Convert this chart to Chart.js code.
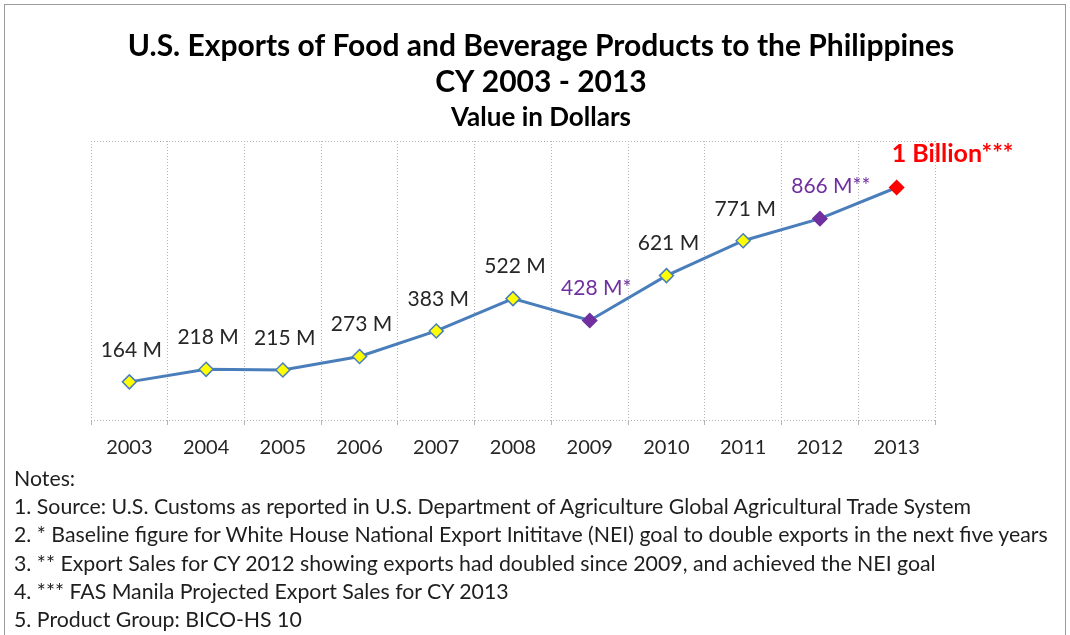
<!DOCTYPE html>
<html>
<head>
<meta charset="utf-8">
<script src="https://cdn.jsdelivr.net/npm/chart.js@4"></script>
<style>
  html, body { margin: 0; padding: 0; background: #fff; }
  body { width: 1070px; height: 635px; position: relative; overflow: hidden; font-family: Lato, "Open Sans", sans-serif; }
  #frame { position: absolute; left: 4px; top: 4px; width: 1062px; height: 650px; border: 1px solid #9a9a9a; box-sizing: border-box; }
  #wrap { position: absolute; left: 0; top: 0; width: 1070px; height: 481px; }
  #notes { position: absolute; left: 14px; top: 464px; font-size: 21.3px; line-height: 28.2px; color: #1e1e1e; white-space: nowrap; }
</style>
</head>
<body>
<div id="frame"></div>
<div id="wrap"><canvas id="chart"></canvas></div>
<div id="notes"></div>
<script>
// Chart data
const years = ["2003", "2004", "2005", "2006", "2007", "2008", "2009", "2010", "2011", "2012", "2013"];
const exportsM = [164, 218, 215, 273, 383, 522, 428, 621, 771, 866, 1000];
const pointLabels = ["164 M", "218 M", "215 M", "273 M", "383 M", "522 M", "428 M*", "621 M", "771 M", "866 M**", "1 Billion***"];
const yRange = [0, 1200];
const notes = [
  "Notes:",
  "1. Source: U.S. Customs as reported in U.S. Department of Agriculture Global Agricultural Trade System",
  "2. * Baseline figure for White House National Export Inititave (NEI) goal to double exports in the next five years",
  "3. ** Export Sales for CY 2012  showing exports had doubled since 2009, and achieved the NEI goal",
  "4. *** FAS Manila Projected Export Sales for CY 2013",
  "5. Product Group: BICO-HS 10"
];

// Styles per point
const YELLOW = "#ffff00", PURPLE = "#7030a0", RED = "#ff0000", LINE = "#4a7ebb", TEXT = "#262626";
const pointFill = [YELLOW, YELLOW, YELLOW, YELLOW, YELLOW, YELLOW, PURPLE, YELLOW, YELLOW, PURPLE, RED];
const pointEdge = [LINE, LINE, LINE, LINE, LINE, LINE, PURPLE, LINE, LINE, PURPLE, RED];
const labelColors = [TEXT, TEXT, TEXT, TEXT, TEXT, TEXT, PURPLE, TEXT, TEXT, PURPLE, RED];

const FONT = "Lato, 'Open Sans', sans-serif";
const GRID = "#b4b4b4";

document.getElementById("notes").innerHTML = notes.map((n) => `<div>${n}</div>`).join("");

// Draw value labels above the points
const valueLabels = {
  id: "valueLabels",
  afterDatasetsDraw(chart) {
    const ctx = chart.ctx;
    const meta = chart.getDatasetMeta(0);
    ctx.save();
    ctx.textBaseline = "middle";
    ctx.textAlign = "left";
    meta.data.forEach((pt, i) => {
      const text = pointLabels[i];
      const last = i === meta.data.length - 1;
      ctx.font = last ? "bold 25px " + FONT : "21px " + FONT;
      ctx.fillStyle = labelColors[i];
      if (last) {
        ctx.fillText(text, pt.x - 5, pt.y - 34);
      } else {
        const w = ctx.measureText(text.replace(/\*+$/, "")).width;
        ctx.fillText(text, pt.x + 2 - w / 2, pt.y - 32);
      }
    });
    ctx.restore();
  },
};

new Chart(document.getElementById("chart"), {
  type: "line",
  data: {
    labels: years,
    datasets: [{
      data: exportsM,
      borderColor: LINE,
      borderWidth: 3,
      tension: 0,
      pointStyle: "rectRot",
      pointRadius: 7,
      pointBorderWidth: 1.5,
      pointBackgroundColor: pointFill,
      pointBorderColor: pointEdge,
    }],
  },
  options: {
    responsive: true,
    maintainAspectRatio: false,
    animation: false,
    layout: { padding: { top: 18, left: 12, right: 0, bottom: 10 } },
    plugins: {
      legend: { display: false },
      tooltip: { enabled: false },
      title: {
        display: true,
        text: ["U.S. Exports of Food and Beverage Products to the Philippines", "CY 2003 - 2013"],
        color: "#000",
        font: { family: FONT, size: 30, weight: "bold", lineHeight: 36 / 30 },
        padding: { top: 10, bottom: 5 },
      },
      subtitle: {
        display: true,
        text: "Value in Dollars",
        color: "#000",
        font: { family: FONT, size: 26, weight: "bold", lineHeight: 25 / 26 },
        padding: { top: 0, bottom: 11 },
      },
    },
    scales: {
      x: {
        offset: true,
        grid: { offset: true, color: GRID, lineWidth: 1, tickLength: 5, tickColor: GRID },
        border: { display: false, dash: [1, 2] },
        ticks: { font: { family: FONT, size: 20 }, color: TEXT, padding: 11 },
      },
      y: {
        min: yRange[0],
        max: yRange[1],
        ticks: { display: false, stepSize: yRange[1] - yRange[0] },
        grid: { drawTicks: false, color: GRID, lineWidth: 1 },
        border: { display: false, dash: [1, 2] },
        afterFit(scale) { scale.width = 79; },
      },
      // empty right-hand axis, only keeps the plot off the right edge
      yRight: {
        position: "right",
        ticks: { display: false },
        grid: { display: false },
        border: { display: false },
        afterFit(scale) { scale.width = 135; },
      },
    },
  },
  plugins: [valueLabels],
});
</script>
</body>
</html>
